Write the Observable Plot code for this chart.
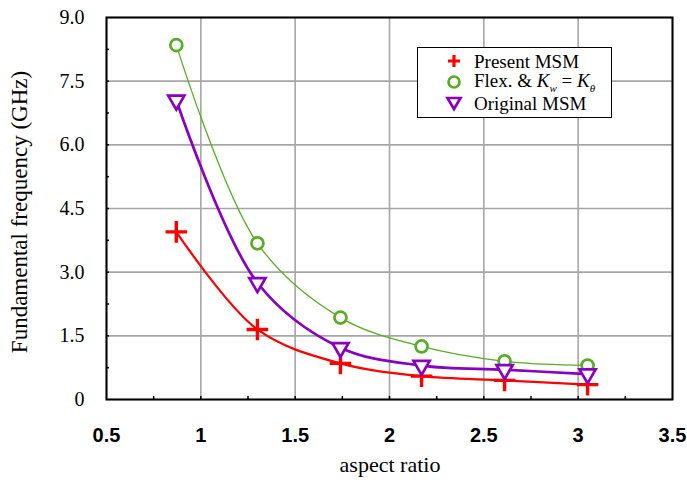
<!DOCTYPE html>
<html><head><meta charset="utf-8">
<script src="https://cdn.jsdelivr.net/npm/d3@7"></script>
<script src="https://cdn.jsdelivr.net/npm/@observablehq/plot@0.6"></script>
<style>
body{margin:0;background:#fff;}
#wrap{position:relative;width:687px;height:485px;font-family:"Liberation Serif","Times New Roman",serif;}
#ylab{position:absolute;left:20px;top:212px;transform:translate(-50%,-50%) rotate(-90deg);font-size:23px;white-space:nowrap;color:#000;font-family:"Liberation Serif",serif;}
#xlab{position:absolute;left:390px;top:465px;transform:translate(-50%,-50%);font-size:22px;white-space:nowrap;color:#000;font-family:"Liberation Serif",serif;}
#legend{position:absolute;left:417px;top:47px;width:193px;height:69px;border:1.5px solid #000;background:#fff;font-size:19px;font-family:"Liberation Serif",serif;line-height:19px;}
.row{position:absolute;left:0;height:20px;display:flex;align-items:center;white-space:nowrap;}
.row svg{margin-left:26px;margin-right:10px;flex:none;}
.sub{font-size:11px;position:relative;top:5px;}
#chart svg g.yax text{font-family:"Liberation Serif",serif !important;}
#chart svg g.xax text{font-family:"Liberation Sans",sans-serif !important;}
</style></head>
<body><div id="wrap"><div id="chart"></div>
<div id="ylab">Fundamental frequency (GHz)</div>
<div id="xlab">aspect ratio</div>
<div id="legend">
<div class="row" style="top:3px"><svg width="20" height="20"><path d="M10 4V16M4 10H16" stroke="#ff0000" stroke-width="3.2"/></svg><span>Present MSM</span></div>
<div class="row" style="top:24px"><svg width="20" height="20"><circle cx="10" cy="10" r="5.5" fill="none" stroke="#58ad22" stroke-width="2.7"/></svg><span>Flex. &amp; <i>K</i><i class="sub">w</i> = <i>K</i><i class="sub">θ</i></span></div>
<div class="row" style="top:45px"><svg width="20" height="20"><path d="M3.5 5H16.5L10 16Z" fill="none" stroke="#8a00c0" stroke-width="2.7"/></svg><span>Original MSM</span></div>
</div>
</div>
<script>
const aspect = [0.87, 1.30, 1.74, 2.17, 2.61, 3.05];
const presentMSM = [3.95, 1.65, 0.85, 0.55, 0.45, 0.35];
const flexK = [8.35, 3.68, 1.93, 1.25, 0.90, 0.80];
const originalMSM = [7.05, 2.75, 1.22, 0.80, 0.70, 0.60];
const xTicks = [0.5, 1, 1.5, 2, 2.5, 3, 3.5];
const yTicks = [0, 1.5, 3, 4.5, 6, 7.5, 9];
const xMinor = [0.75, 1, 1.25, 1.5, 1.75, 2, 2.25, 2.5, 2.75, 3, 3.25];
const yMinor = [0.75, 1.5, 2.25, 3, 3.75, 4.5, 5.25, 6, 6.75, 7.5, 8.25];

const series = [
  {name: "Present MSM", values: presentMSM, color: "#ff0000", width: 2.2, symbol: "plus", rotate: 0},
  {name: "Flex", values: flexK, color: "#58ad22", width: 1.3, symbol: "circle", rotate: 0},
  {name: "Original MSM", values: originalMSM, color: "#8a00c0", width: 2.7, symbol: "triangle", rotate: 180}
];
const rows = s => aspect.map((x, i) => ({x, y: s.values[i]}));

const W = 687, H = 485, mT = 17, mB = 86, mL = 106, mR = 15;
const plotW = W - mL - mR, plotH = H - mT - mB, tick = 3;

const marks = [
  Plot.gridX(xTicks, {stroke: "#a6a6a6", strokeOpacity: 1, strokeWidth: 1.6}),
  Plot.gridY(yTicks, {stroke: "#a6a6a6", strokeOpacity: 1, strokeWidth: 1.6}),
  Plot.ruleX(xMinor, {x: d => d, insetTop: plotH - tick, stroke: "#000", strokeWidth: 1.5}),
  Plot.ruleY(yMinor, {y: d => d, insetRight: plotW - tick, stroke: "#000", strokeWidth: 1.5}),
  Plot.axisX(xTicks, {tickSize: 0, tickPadding: 28, fontSize: 20, fontWeight: "bold", tickFormat: d => String(d), label: null, ariaLabel: "x-axis"}),
  Plot.axisY(yTicks, {tickSize: 0, tickPadding: 22, fontSize: 20, tickFormat: d => d === 0 ? "0" : d.toFixed(1), label: null, ariaLabel: "y-axis"}),
];
for (const s of series) {
  marks.push(Plot.line(rows(s), {x: "x", y: "y", curve: "catmull-rom", stroke: s.color, strokeWidth: s.width}));
}
for (const s of series) {
  marks.push(Plot.dot(rows(s), {x: "x", y: "y", symbol: s.symbol, rotate: s.rotate, r: s.symbol === "plus" ? 7 : 6, stroke: s.color, strokeWidth: s.symbol === "plus" ? 3.4 : 2.7, fill: s.symbol === "plus" ? s.color : "white"}));
}
marks.push(Plot.frame({stroke: "#000", strokeWidth: 2}));

const chart = Plot.plot({
  width: W, height: H,
  marginTop: mT, marginBottom: mB, marginLeft: mL, marginRight: mR,
  x: {domain: [0.5, 3.5]},
  y: {domain: [0, 9]},
  style: {background: "white", color: "#000", fontFamily: "Liberation Serif, serif"},
  marks
});
document.getElementById("chart").appendChild(chart);
d3.select(chart).selectAll("g[aria-label]").each(function() {
  const a = this.getAttribute("aria-label");
  if (/^x-axis/.test(a)) this.classList.add("xax");
  if (/^y-axis/.test(a)) this.classList.add("yax");
});
</script>
</body></html>
